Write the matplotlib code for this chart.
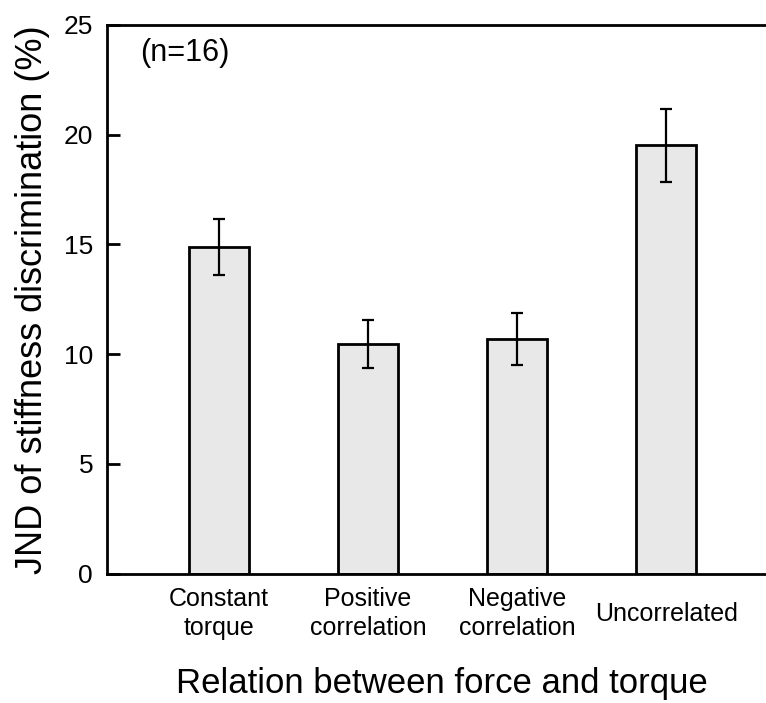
import matplotlib
matplotlib.use("Agg")
import matplotlib.pyplot as plt

categories = ["Constant\ntorque", "Positive\ncorrelation", "Negative\ncorrelation", "Uncorrelated"]
jnd_values = [14.88, 10.46, 10.69, 19.52]
jnd_errors = [1.26, 1.11, 1.18, 1.66]
y_ticks = [0, 5, 10, 15, 20, 25]

plt.rcParams['font.family'] = ['Liberation Sans', 'DejaVu Sans']

fig = plt.figure(figsize=(7.66, 7.03), dpi=100)
ax = fig.add_axes([107/766, 129.5/703, 1 - 107/766, (573.5 - 25)/703])

x = list(range(len(categories)))
ax.bar(x, jnd_values, width=0.4, color='#e8e8e8', edgecolor='black', linewidth=2.0, zorder=2)
ax.errorbar(x, jnd_values, yerr=jnd_errors, fmt='none', ecolor='black', elinewidth=1.6,
            capsize=4.5, capthick=1.6, zorder=3)

ax.set_xlim(-0.752, 3.67)
ax.set_ylim(0, 25)
ax.set_yticks(y_ticks)
ax.set_yticklabels([str(t) for t in y_ticks], fontsize=19)
ax.set_xticks(x)
ax.set_xticklabels(categories, fontsize=18, va='center', linespacing=1.25)
ax.tick_params(axis='x', length=0, pad=29)
ax.tick_params(axis='y', direction='in', length=9, width=2.0, pad=10)

for s in ['left', 'top', 'bottom']:
    ax.spines[s].set_linewidth(2.0)
ax.spines['right'].set_visible(False)

ax.set_ylabel("JND of stiffness discrimination (%)", fontsize=26, labelpad=10)
ax.set_xlabel("Relation between force and torque", fontsize=25)
ax.xaxis.label.set_va('center')
ax.xaxis.set_label_coords((442 - 107) / (766 - 107), -(683 - 573.5) / (573.5 - 25))

ax.text((140 - 107) / (766 - 107), (573.5 - 53) / (573.5 - 25), "(n=16)", fontsize=22,
        transform=ax.transAxes, ha='left', va='center')

fig.savefig("out.png", dpi=100)
